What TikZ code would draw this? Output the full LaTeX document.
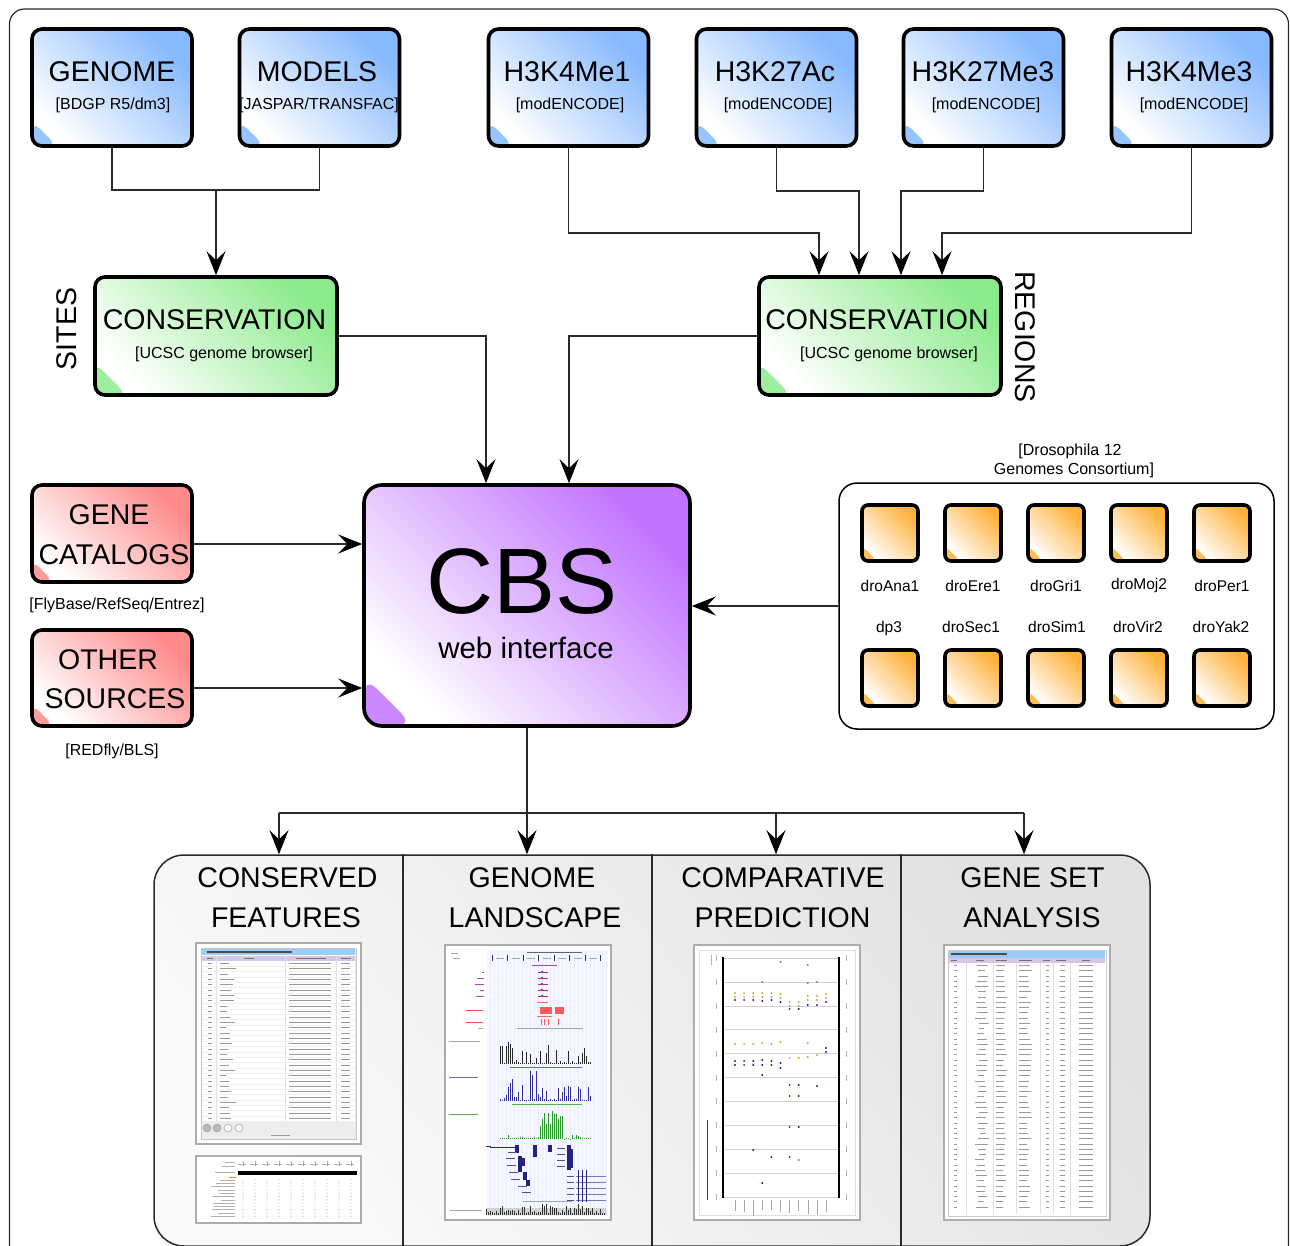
\documentclass[tikz,border=0pt]{standalone}
\usepackage{fontspec}
\setmainfont{Liberation Sans}
\usetikzlibrary{arrows.meta,calc}

\definecolor{blueC}{HTML}{86B9FF}
\definecolor{greenC}{HTML}{8CEB8C}
\definecolor{redC}{HTML}{FF8A8A}
\definecolor{purpleC}{HTML}{C273FF}
\definecolor{orangeC}{HTML}{FFB23A}
\definecolor{lineC}{HTML}{2A2A2A}
\definecolor{panelC}{HTML}{E2E2E2}
\definecolor{panelL}{HTML}{FAFAFA}
\definecolor{hdrblue}{HTML}{9CCDFA}
\definecolor{hdrlav}{HTML}{D9C6E2}
\definecolor{navy}{HTML}{23237E}
\definecolor{trackblue}{HTML}{2B2B9A}
\definecolor{trackgreen}{HTML}{2E9A2E}
\definecolor{dotyellow}{HTML}{C9A63A}

\tikzset{
  glossy/.style 2 args={draw=black, line width=3.6pt, top color=#1, bottom color=white,
    shading angle=-45, inner sep=0pt,
    path picture={\fill[#1!85] (path picture bounding box.south west) -- ++(0pt,#2) -- ++(#2,-#2) -- cycle;}},
  srcbox/.style={glossy={blueC}{25pt}, rounded corners=10pt, minimum width=160pt, minimum height=117pt},
  consbox/.style={glossy={greenC}{32pt}, rounded corners=10pt, minimum width=242pt, minimum height=118pt},
  cbsbox/.style={glossy={purpleC}{50pt}, rounded corners=18pt, minimum width=326pt, minimum height=241pt},
  catbox/.style={glossy={redC}{22pt}, rounded corners=10pt, minimum width=160pt},
  spbox/.style={glossy={orangeC}{15pt}, rounded corners=6pt, minimum width=56pt, minimum height=56pt},
  bigtxt/.style={font=\fontsize{28.5pt}{34pt}\selectfont, inner sep=0pt, anchor=base},
  subtxt/.style={font=\fontsize{16pt}{19pt}\selectfont, inner sep=0pt, anchor=base},
  sptxt/.style={font=\fontsize{15.5pt}{18pt}\selectfont, inner sep=0pt, anchor=base},
  wire/.style={draw=lineC, line width=1.3pt},
  feed/.style={wire, -{Stealth[length=24pt, width=19pt, inset=9pt, color=black]}},
  shot/.style={draw=gray!65, line width=1.6pt, fill=white},
  txtline/.style={gray!80, line width=1pt},
}

\begin{document}
\begin{tikzpicture}[x=1pt, y=-1pt]
\pgfmathsetseed{42}
\useasboundingbox (0,0) rectangle (1290,1246);

% outer frame, open at the bottom
\draw[line width=1.2pt, lineC, rounded corners=15pt] (9.5,1270) -- (9.5,9) -- (1288.5,9) -- (1288.5,1270);

% ---------- data sources ----------
\node[srcbox] (genome) at (112,87.5) {};
\node[bigtxt] (genome-t) at (112,82) {GENOME};
\node[subtxt] (genome-s) at (113,110) {[BDGP R5/dm3]};

\node[srcbox] (models) at (319.5,87.5) {};
\node[bigtxt] (models-t) at (317,82) {MODELS};
\node[subtxt] (models-s) at (319,110) {[JASPAR/TRANSFAC]};

\node[srcbox] (h3k4me1) at (568.5,87.5) {};
\node[bigtxt] (h3k4me1-t) at (567,82) {H3K4Me1};
\node[subtxt] (h3k4me1-s) at (570,110) {[modENCODE]};

\node[srcbox] (h3k27ac) at (776.5,87.5) {};
\node[bigtxt] (h3k27ac-t) at (775,82) {H3K27Ac};
\node[subtxt] (h3k27ac-s) at (778,110) {[modENCODE]};

\node[srcbox] (h3k27me3) at (983.5,87.5) {};
\node[bigtxt] (h3k27me3-t) at (983,82) {H3K27Me3};
\node[subtxt] (h3k27me3-s) at (986,110) {[modENCODE]};

\node[srcbox] (h3k4me3) at (1191.5,87.5) {};
\node[bigtxt] (h3k4me3-t) at (1189,82) {H3K4Me3};
\node[subtxt] (h3k4me3-s) at (1194,110) {[modENCODE]};

% ---------- conservation ----------
\node[consbox] (sites) at (216,336) {};
\node[bigtxt] (sites-t) at (214.5,330) {CONSERVATION};
\node[subtxt] (sites-s) at (224,359) {[UCSC genome browser]};
\node[bigtxt, anchor=center, rotate=90] (sites-side) at (67,329) {SITES};

\node[consbox] (regions) at (880,336) {};
\node[bigtxt] (regions-t) at (877,330) {CONSERVATION};
\node[subtxt] (regions-s) at (889,359) {[UCSC genome browser]};
\node[bigtxt, anchor=center, rotate=-90] (regions-side) at (1025,337) {REGIONS};

% ---------- CBS ----------
\node[cbsbox] (cbs) at (527,605.5) {};
\node[font=\fontsize{93pt}{100pt}\selectfont, inner sep=0pt, anchor=base] (cbs-t) at (522,613) {CBS};
\node[font=\fontsize{29.5pt}{34pt}\selectfont, inner sep=0pt, anchor=base] (cbs-s) at (526,658) {web interface};

% ---------- catalogues ----------
\node[catbox, minimum height=97pt] (genecat) at (112,533.5) {};
\node[bigtxt] (genecat-t1) at (109,524.5) {GENE};
\node[bigtxt] (genecat-t2) at (114,564) {CATALOGS};
\node[subtxt] (genecat-s) at (117,609) {[FlyBase/RefSeq/Entrez]};

\node[catbox, minimum height=96pt] (other) at (112,678) {};
\node[bigtxt] (other-t1) at (108,669.5) {OTHER};
\node[bigtxt] (other-t2) at (115,708.5) {SOURCES};
\node[subtxt] (other-s) at (112,755) {[REDfly/BLS]};

% ---------- species ----------
\node[draw=black, line width=1.5pt, fill=white, rounded corners=18pt,
      minimum width=435pt, minimum height=246pt, inner sep=0pt] (species) at (1056.5,606) {};
\node[subtxt] (species-t1) at (1070,455) {[Drosophila 12};
\node[subtxt] (species-t2) at (1074,474) {Genomes Consortium]};
\foreach \nm/\x/\yl in {droAna1/890/591, droEre1/973/591, droGri1/1056/591, droMoj2/1139/589, droPer1/1222/591} {
  \node[spbox] (\nm) at (\x,533) {};
  \node[sptxt] (\nm-l) at (\x,\yl) {\nm};
}
\foreach \nm/\x/\xl in {dp3/890/889, droSec1/973/971, droSim1/1056/1057, droVir2/1139/1138, droYak2/1222/1221} {
  \node[spbox] (\nm) at (\x,678) {};
  \node[sptxt] (\nm-l) at (\xl,632) {\nm};
}

% ---------- connectors into conservation ----------
\coordinate (gm) at (216,190);
\draw[wire] (genome.south) |- (gm) -| (models.south);
\draw[feed] (gm) -- (sites.north);

\coordinate (r1) at (819,233);
\coordinate (r2) at (859,191);
\coordinate (r3) at (901,191);
\coordinate (r4) at (942,233);
\draw[feed] (h3k4me1.south) |- (r1) -- (r1 |- regions.north);
\draw[feed] (h3k27ac.south) |- (r2) -- (r2 |- regions.north);
\draw[feed] (h3k27me3.south) |- (r3) -- (r3 |- regions.north);
\draw[feed] (h3k4me3.south) |- (r4) -- (r4 |- regions.north);

% ---------- connectors into CBS ----------
\coordinate (s1) at (486,336);
\coordinate (s2) at (569,336);
\draw[feed] (sites.east) -- (s1) -- (s1 |- cbs.north);
\draw[feed] (regions.west) -- (s2) -- (s2 |- cbs.north);
\draw[feed] (genecat.east |- 0,544) -- (cbs.west |- 0,544);
\draw[feed] (other.east |- 0,688) -- (cbs.west |- 0,688);
\draw[feed] (species.west) -- (cbs.east |- species.west);

% ---------- output panel ----------
\node[draw=lineC, line width=1.5pt, rounded corners=30pt, top color=panelC, bottom color=panelL,
      shading angle=-50, minimum width=996pt, minimum height=391pt, inner sep=0pt] (outputs) at (652,1050.5) {};
\foreach \x in {403,652,901}
  \draw[line width=1.5pt, lineC] (outputs.north -| \x,0) -- (outputs.south -| \x,0);

\coordinate (o1) at (279,813);
\coordinate (o2) at (527,813);
\coordinate (o3) at (776,813);
\coordinate (o4) at (1024,813);
\draw[wire] (cbs.south) -- (o2);
\draw[wire] (o1) -- (o4);
\foreach \c in {o1,o2,o3,o4}
  \draw[feed] (\c) -- (\c |- outputs.north);

\node[bigtxt] (cf-1) at (287.5,887) {CONSERVED};
\node[bigtxt] (cf-2) at (286,927) {FEATURES};
\node[bigtxt] (gl-1) at (532,887) {GENOME};
\node[bigtxt] (gl-2) at (535,927) {LANDSCAPE};
\node[bigtxt] (cp-1) at (783,887) {COMPARATIVE};
\node[bigtxt] (cp-2) at (782.5,927) {PREDICTION};
\node[bigtxt] (gs-1) at (1032.5,887) {GENE SET};
\node[bigtxt] (gs-2) at (1032,927) {ANALYSIS};

% ---------- screenshot: conserved sites table ----------
\draw[shot] (196,943) rectangle (361,1144);
\fill[gray!14] (201,948) rectangle (356,1139);
\draw[gray!45, line width=0.6pt] (201,948) rectangle (356,1139);
\fill[white] (202,949) rectangle (355,1121);
\fill[hdrblue] (202,949) rectangle (355,955);
\fill[black!70] (207,951.3) rectangle (292,953.2);
\fill[hdrlav] (202,955.5) rectangle (355,960.5);
\foreach \a/\b in {207/213, 244/254, 296/326, 341/351}
  \draw[black!55, line width=0.9pt] (\a,958) -- (\b,958);
\foreach \x in {216,285,336}
  \draw[gray!25, line width=0.5pt] (\x,955.5) -- (\x,1121);
\foreach \r in {0,...,29} {
  \pgfmathsetmacro\yy{963.5+5.35*\r}
  \draw[gray!12, line width=0.4pt] (202,\yy+2.6) -- (355,\yy+2.6);
  \draw[txtline] (208,\yy) -- (212,\yy);
  \draw[txtline] (220,\yy) -- ++({6+10*rnd},0);
  \draw[txtline] (289,\yy) -- (331,\yy);
  \draw[txtline] (341,\yy) -- (350,\yy);
}
\foreach \x/\c in {207/gray!55, 217/gray!55, 228/white, 239/white}
  \filldraw[fill=\c, draw=gray!70, line width=0.6pt] (\x,1128) circle (4pt);
\draw[txtline] (271,1135.5) -- (290,1135.5);

% ---------- screenshot: alignment strip ----------
\draw[shot] (196,1156) rectangle (361,1223);
\foreach \k in {0,...,9} {
  \draw[gray!75, line width=0.5pt] ({243+12*\k},1161) -- ++(0,5);
  \draw[gray!60, line width=0.8pt] ({238+12*\k},1164) -- ++(8,0);
}
\draw[gray!60, line width=0.6pt] (225,1162) -- (235,1162);
\draw[gray!60, line width=0.6pt] (222,1166) -- (235,1166);
\fill[black] (238,1170.5) rectangle (357,1175);
\draw[gray!60, line width=0.6pt] (215,1172.5) -- (235,1172.5);
\draw[orange, line width=0.9pt] (229,1177) -- (236,1177);
\foreach \r in {0,...,11} {
  \pgfmathsetmacro\yy{1180+3.3*\r}
  \draw[gray!60, line width=0.6pt] ({221-10*rnd},\yy) -- (235,\yy);
  \foreach \k in {0,...,9}
    \fill[gray!65] ({243+12*\k},\yy) circle (0.55pt);
}

% ---------- screenshot: genome landscape ----------
\draw[shot] (445,945) rectangle (611,1220);
\fill[blue!3] (487,950) rectangle (607,1216);
\foreach \x in {490,494,...,606}
  \draw[blue!8, line width=0.4pt] (\x,950) -- (\x,1216);
\draw[gray!70, line width=0.6pt] (451,953) -- (458,953);
\draw[gray!70, line width=0.6pt] (453,958) -- (460,958);
\draw[black!60, line width=0.5pt] (527,952) -- (582,952);
\foreach \k in {0,...,7}
  \draw[black!80, line width=0.7pt] ({492+15.5*\k},955) -- ++(0,6);
\foreach \k in {0,...,6}
  \draw[gray!70, line width=0.8pt] ({496+15.5*\k},958) -- ++(8,0);
\draw[violet!70, line width=0.9pt] (532,965) -- (557,965);
\foreach \yy/\a in {972/482, 978/477, 984/475, 990/480, 996/476} {
  \draw[violet!70, line width=0.8pt] (\a,\yy) -- (484,\yy);
  \draw[violet!80, line width=0.6pt] (538,\yy) -- (548,\yy);
  \fill[violet!80] (542,\yy) circle (1.4pt);
}
\draw[red!70, line width=0.8pt] (466,1010) -- (483,1010);
\draw[red!70, line width=0.8pt] (466,1022) -- (483,1022);
\draw[red!60, line width=0.8pt] (537,1002) -- (548,1002);
\fill[red!65] (540,1006.5) rectangle (552,1013.5);
\fill[red!65] (555,1006.5) rectangle (564,1013.5);
\draw[red!60, line width=0.8pt] (537,1016.5) -- (552,1016.5);
\foreach \x in {541,544,548,558}
  \fill[red!65] (\x,1019) rectangle ++(1.3,6);
\draw[gray!70, line width=0.6pt] (517,1028) -- (583,1028);
\draw[gray!70, line width=0.6pt] (478,1028) -- (483,1028);
% chromatin tracks
\draw[gray!70, line width=0.7pt] (449,1041) -- (480,1041);
\foreach \i in {0,...,45} {
  \pgfmathsetmacro\hh{1+18*rnd^4}
  \fill[black!85] ({500+2*\i},1064) rectangle ++(1.4,-\hh);
}
\foreach \x/\hh in {506/18, 508/22, 510/20, 512/15, 526/12, 540/13, 556/14, 584/16}
  \fill[black!85] (\x,1064) rectangle ++(1.4,-\hh);
\draw[trackblue!70, line width=0.5pt] (510,1067) -- (582,1067);
\draw[trackblue!70, line width=0.7pt] (449,1077) -- (478,1077);
\foreach \i in {0,...,45} {
  \pgfmathsetmacro\hh{1+14*rnd^3}
  \fill[trackblue] ({500+2*\i},1101) rectangle ++(1.4,-\hh);
}
\foreach \x/\hh in {510/18, 512/22, 522/16, 530/30, 532/26, 536/30, 546/10, 564/14, 580/12}
  \fill[trackblue] (\x,1101) rectangle ++(1.4,-\hh);
\draw[trackgreen!80, line width=0.5pt] (512,1104) -- (582,1104);
\draw[trackgreen!80, line width=0.7pt] (449,1114) -- (478,1114);
\foreach \i in {0,...,45} {
  \pgfmathsetmacro\inner{(\i>19)*(\i<32)}
  \pgfmathsetmacro\hh{\inner*(12+16*rnd) + (1-\inner)*(0.5+4*rnd^3)}
  \fill[trackgreen] ({500+2*\i},1139) rectangle ++(1.4,-\hh);
}
% gene models
\draw[navy, line width=0.6pt] (486,1146) -- (491,1146);
\draw[navy, line width=0.5pt] (490,1147) -- (516,1147);
\foreach \x/\a/\b in {515/1145/1153, 518/1156/1172, 521/1158/1166, 533/1145/1157, 548/1145/1152, 567/1145/1170, 569/1149/1168, 523/1172/1180, 526/1180/1186}
  \fill[navy] (\x,\a) rectangle ++(3.5,{\b-\a});
\foreach \yy/\a in {1152/508, 1158/506, 1165/507, 1172/509, 1179/511, 1186/518, 1192/522}
  \draw[navy!80, line width=0.8pt] (\a,\yy) -- ++(9,0);
\foreach \yy in {1148,1154,1160,1166}
  \draw[navy!80, line width=0.8pt] (557,\yy) -- ++(8,0);
\foreach \yy in {1176,1182,1188,1194,1200} {
  \draw[navy!80, line width=0.8pt] (567,\yy) -- ++(7,0);
  \draw[navy!60, line width=0.4pt] (576,\yy) -- (606,\yy);
}
\foreach \x in {578,582,586}
  \draw[navy, line width=0.8pt] (\x,1170) -- (\x,1202);
\draw[gray!70, line width=0.5pt] (523,1201) -- (572,1201);
% conservation barcode
\draw[gray!70, line width=0.6pt] (450,1210) -- (482,1210);
\fill[gray!35] (486,1208) rectangle (606,1215);
\foreach \i in {0,...,59} {
  \pgfmathsetmacro\hh{2+9*rnd^2}
  \fill[black!80] ({486+2*\i},1215) rectangle ++(0.9,-\hh);
}

% ---------- screenshot: comparative prediction ----------
\draw[shot] (694,945) rectangle (860,1220);
\draw[gray!25, line width=0.5pt] (699,950) rectangle (855,1215);
\foreach \k in {0,...,10} {
  \pgfmathsetmacro\yy{958+23.9*\k}
  \draw[gray!35, line width=0.5pt] (723,\yy) -- (839,\yy);
  \draw[gray!60, line width=0.6pt] (716,\yy-3) -- (716,\yy+3);
  \draw[gray!60, line width=0.6pt] (846,\yy-3) -- (846,\yy+3);
}
\draw[black, line width=1.6pt] (723,957) -- (723,1198);
\draw[black, line width=1.6pt] (839,957) -- (839,1198);
\draw[black!75, line width=1pt] (707,1120) -- (707,1200);
\draw[gray!60, line width=0.5pt] (711,955) -- (711,965);
\foreach \k in {0,...,10}
  \draw[gray!70, line width=0.6pt] ({735+9.1*\k},1200) -- ++(0,{9+7*rnd});
\foreach \k/\yy/\c in {
  0/993/dotyellow, 1/993/dotyellow, 2/993/dotyellow, 3/993/dotyellow, 4/993/dotyellow, 5/994/dotyellow,
  0/997/dotyellow, 1/997/dotyellow, 2/997/dotyellow, 3/997/dotyellow, 4/997/dotyellow, 5/998/dotyellow,
  0/1000/navy, 1/1000/navy, 2/1000/navy, 3/1001/navy, 4/1000/navy, 5/1002/navy,
  6/1002/dotyellow, 7/1002/dotyellow, 6/1006/dotyellow, 7/1006/dotyellow, 6/1009/navy, 7/1009/navy,
  8/996/dotyellow, 9/996/dotyellow, 8/1000/dotyellow, 9/1000/dotyellow, 8/1005/navy, 9/1005/navy,
  10/994/dotyellow, 10/998/dotyellow, 10/1002/navy,
  0/1044/dotyellow, 1/1044/dotyellow, 2/1044/dotyellow, 3/1043/dotyellow, 4/1044/dotyellow, 5/1042/dotyellow,
  6/1058/dotyellow, 7/1058/dotyellow, 8/1057/dotyellow, 8/1043/dotyellow, 9/1055/dotyellow, 10/1048/navy, 10/1052/navy,
  0/1061/navy, 1/1061/navy, 2/1061/navy, 3/1060/navy, 4/1061/navy, 5/1063/navy,
  0/1065/navy, 1/1065/navy, 2/1065/navy, 3/1065/navy, 4/1065/navy, 5/1068/navy, 3/1075/navy,
  6/1085/navy, 7/1085/navy, 6/1096/navy, 7/1096/navy, 9/1086/navy,
  6/1127/navy, 7/1127/navy, 6/1157/navy, 7/1160/gray, 2/1150/navy, 4/1157/navy, 3/1183/navy,
  5/962/gray, 8/965/gray, 3/982/gray, 8/983/gray, 9/982/gray}
  \fill[\c] ({735+9.1*\k},\yy) circle (1.1pt);

% ---------- screenshot: gene set analysis ----------
\draw[shot] (944,945) rectangle (1110,1220);
\draw[gray!40, line width=0.6pt] (948,950) rectangle (1106,1216);
\fill[hdrblue] (949,951) rectangle (1105,957.5);
\fill[black!70] (951,953.3) rectangle (1007,955.2);
\fill[hdrlav] (949,958) rectangle (1105,962.5);
\foreach \a/\b in {951/957, 976/984, 996/1007, 1019/1032, 1043/1050, 1056/1066, 1082/1090}
  \draw[black!55, line width=0.8pt] (\a,960.2) -- (\b,960.2);
\foreach \x in {966,993,1016,1040,1053,1070}
  \draw[gray!25, line width=0.5pt] (\x,962.5) -- (\x,1214);
\foreach \r in {0,...,46} {
  \pgfmathsetmacro\yy{965.5+5.25*\r}
  \draw[txtline, line width=0.9pt] (954,\yy) -- (957,\yy);
  \draw[txtline, line width=0.9pt] ({980-5*rnd},\yy) -- ({984+5*rnd},\yy);
  \draw[txtline, line width=0.9pt] (996,\yy) -- ({1003+4*rnd},\yy);
  \draw[txtline, line width=0.9pt] (1019,\yy) -- ({1027+5*rnd},\yy);
  \draw[txtline, line width=0.9pt] (1046,\yy) -- (1049,\yy);
  \draw[txtline, line width=0.9pt] (1060,\yy) -- (1065,\yy);
  \draw[txtline, line width=0.9pt] (1079,\yy) -- (1093,\yy);
}
\end{tikzpicture}
\end{document}
